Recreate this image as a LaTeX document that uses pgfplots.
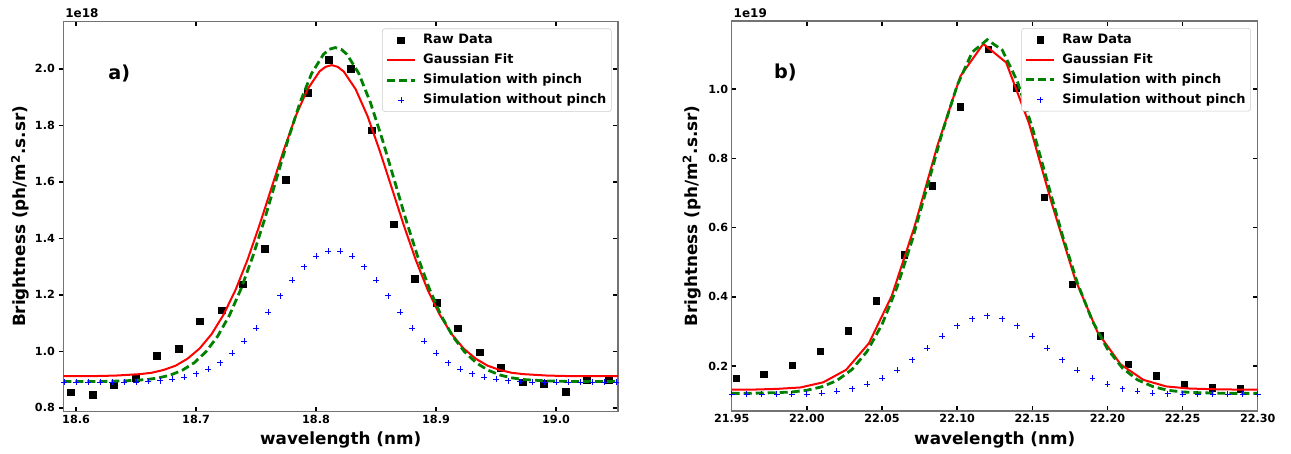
\documentclass[border=0pt]{standalone}
\usepackage{pgfplots}
\pgfplotsset{compat=1.18}
\usepackage{fontspec}
\setmainfont{DejaVu Sans}
\definecolor{mgreen}{rgb}{0,0.5,0}

\pgfplotsset{
  common/.style={
    scale only axis,
    anchor=south west,
    clip mode=individual,
    scaled ticks=false,
    /pgf/number format/assume math mode=true,
    tick label style={font=\bfseries\fontsize{8.4}{10}\selectfont, inner sep=0pt},
    label style={font=\bfseries\fontsize{12.6}{15}\selectfont},
    axis line style={black!55, line width=0.8pt},
    tick style={black, line width=1.1pt},
    major tick length=3.5pt,
    tick align=inside,
    xtick pos=both,
    xticklabel pos=bottom,
    xticklabel shift=2.5pt,
    legend cell align=left,
    legend image code/.code={\draw[mark repeat=2,mark phase=2,##1] plot coordinates {(0pt,0pt) (10.4pt,0pt) (20.8pt,0pt)};},
    legend style={anchor=north east, draw=black!20, rounded corners=2pt, fill=white,
      font=\bfseries\fontsize{9.7}{11}\selectfont, inner sep=2.6pt, row sep=3.1pt,
      nodes={inner sep=1.2pt, text height=7.5pt, text depth=2pt},
      /tikz/every odd column/.append style={column sep=4pt}},
    xlabel style={anchor=center},
    ylabel style={anchor=center},
  },
  raw/.style={only marks, mark=square*, mark size=2.5pt, black},
  fit/.style={red, line width=1.5pt, no marks},
  pinch/.style={mgreen, line width=2.1pt, dash pattern=on 6pt off 3pt, no marks},
  nopinch/.style={only marks, mark=+, mark size=2.2pt, blue, mark options={line width=0.7pt}},
}

\begin{document}
\begin{tikzpicture}
\useasboundingbox (0pt,0pt) rectangle (968.25pt,-339.75pt);

% ---------------- panel a ----------------
\begin{axis}[common,
  at={(47.5pt,-308.8pt)}, width=416pt, height=293pt,
  xmin=18.5894, xmax=19.0517, ymin=0.786, ymax=2.169,
  xtick={18.6,18.7,18.8,18.9,19.0},
  ytick={0.8,1.0,1.2,1.4,1.6,1.8,2.0},
  ytick pos=right, yticklabel pos=left,
  extra y ticks={0.8,1.0,1.2,1.4,1.6,1.8,2.0},
  extra y tick labels={},
  extra y tick style={ytick pos=left, tick align=outside},
  yticklabel shift=6.2pt,
  xticklabel style={/pgf/number format/fixed, /pgf/number format/fixed zerofill, /pgf/number format/precision=1},
  yticklabel style={/pgf/number format/fixed, /pgf/number format/fixed zerofill, /pgf/number format/precision=1},
  xlabel={wavelength (nm)},
  ylabel={Brightness (ph/m\textsuperscript{2}.s.sr)},
  xlabel style={at={(axis description cs:0.5,-0.072)}},
  ylabel style={at={(axis description cs:-0.0775,0.5)}},
  legend style={at={(axis description cs:0.9886,0.981)}},
]
\addplot[raw] coordinates {
(18.5958,0.855) (18.6137,0.847) (18.6316,0.880) (18.6496,0.906) (18.6675,0.983)
(18.6854,1.009) (18.7033,1.106) (18.7212,1.145) (18.7392,1.237) (18.7571,1.362)
(18.7750,1.608) (18.7929,1.915) (18.8108,2.031) (18.8288,2.001) (18.8467,1.783)
(18.8646,1.450) (18.8825,1.256) (18.9004,1.171) (18.9184,1.082) (18.9363,0.996)
(18.9542,0.941) (18.9721,0.890) (18.9900,0.886) (19.0080,0.857) (19.0259,0.898)
(19.0438,0.900)};
\addlegendentry{Raw Data}
\addplot[fit] coordinates {
(18.5894,0.912) (18.613,0.912) (18.633,0.914) (18.653,0.919) (18.663,0.924)
(18.673,0.934) (18.683,0.949) (18.693,0.974) (18.703,1.010) (18.713,1.061)
(18.723,1.130) (18.733,1.218) (18.743,1.325) (18.753,1.448) (18.763,1.580)
(18.773,1.711) (18.783,1.832) (18.793,1.928) (18.803,1.991) (18.808,2.007) (18.813,2.013)
(18.818,2.007) (18.823,1.991) (18.833,1.928) (18.843,1.832) (18.853,1.711) (18.863,1.580)
(18.873,1.448) (18.883,1.325) (18.893,1.218) (18.903,1.130) (18.913,1.061)
(18.923,1.010) (18.933,0.974) (18.943,0.949) (18.953,0.934) (18.963,0.924)
(18.973,0.919) (18.993,0.914) (19.013,0.912) (19.0517,0.912)};
\addlegendentry{Gaussian Fit}
\addplot[pinch] coordinates {
(18.5894,0.893) (18.620,0.893) (18.6396,0.895) (18.6592,0.900) (18.669,0.906)
(18.6788,0.916) (18.6886,0.933) (18.6984,0.959) (18.7082,0.998) (18.718,1.053)
(18.7278,1.127) (18.7376,1.222) (18.7474,1.337) (18.7572,1.468) (18.767,1.610)
(18.7768,1.751) (18.7866,1.880) (18.7964,1.984) (18.8062,2.051) (18.811,2.069) (18.816,2.075)
(18.821,2.069) (18.8258,2.051) (18.8356,1.984) (18.8454,1.880) (18.8552,1.751) (18.865,1.610)
(18.8748,1.468) (18.8846,1.337) (18.8944,1.222) (18.9042,1.127) (18.914,1.053)
(18.9238,0.998) (18.9336,0.959) (18.9434,0.933) (18.9532,0.916) (18.963,0.906)
(18.9728,0.900) (18.9924,0.895) (19.012,0.893) (19.0517,0.893)};
\addlegendentry{Simulation with pinch}
\addplot[nopinch] coordinates {
(18.59,0.890) (18.60,0.890) (18.61,0.890) (18.62,0.890) (18.63,0.890)
(18.64,0.890) (18.65,0.891) (18.66,0.893) (18.67,0.896) (18.68,0.901)
(18.69,0.909) (18.70,0.920) (18.71,0.937) (18.72,0.959) (18.73,0.993)
(18.74,1.035) (18.75,1.082) (18.76,1.138) (18.77,1.196) (18.78,1.252)
(18.79,1.299) (18.80,1.337) (18.81,1.355) (18.82,1.355) (18.83,1.337)
(18.84,1.299) (18.85,1.252) (18.86,1.196) (18.87,1.138) (18.88,1.082)
(18.89,1.035) (18.90,0.993) (18.91,0.959) (18.92,0.937) (18.93,0.920)
(18.94,0.909) (18.95,0.901) (18.96,0.896) (18.97,0.893) (18.98,0.891)
(18.99,0.890) (19.00,0.890) (19.01,0.890) (19.02,0.890) (19.03,0.890)
(19.04,0.890) (19.05,0.890)};
\addlegendentry{Simulation without pinch}
\node[font=\bfseries\fontsize{14.4}{17}\selectfont] at (axis cs:18.636,1.985) {a)};
\node[anchor=south west, inner sep=0pt, xshift=1.3pt, yshift=2pt, font=\bfseries\fontsize{9}{10}\selectfont] at (rel axis cs:0,1) {1e18};
\end{axis}

% ---------------- panel b ----------------
\begin{axis}[common,
  at={(548.8pt,-308.25pt)}, width=394.5pt, height=292.5pt,
  xmin=21.95, xmax=22.30, ymin=0.070, ymax=1.197,
  xtick={21.95,22.00,22.05,22.10,22.15,22.20,22.25,22.30},
  ytick={0.2,0.4,0.6,0.8,1.0},
  ytick pos=both, yticklabel pos=left,
  yticklabel shift=2.5pt,
  xticklabel style={/pgf/number format/fixed, /pgf/number format/fixed zerofill, /pgf/number format/precision=2},
  yticklabel style={/pgf/number format/fixed, /pgf/number format/fixed zerofill, /pgf/number format/precision=1},
  xlabel={wavelength (nm)},
  ylabel={Brightness (ph/m\textsuperscript{2}.s.sr)},
  xlabel style={at={(axis description cs:0.5,-0.074)}},
  ylabel style={at={(axis description cs:-0.076,0.5)}},
  legend style={at={(axis description cs:0.987,0.982)}},
]
\addplot[raw] coordinates {
(21.9529,0.165) (21.9715,0.176) (21.9902,0.202) (22.0088,0.243) (22.0275,0.302)
(22.0461,0.388) (22.0647,0.521) (22.0834,0.721) (22.1020,0.949) (22.1207,1.115)
(22.1393,1.005) (22.1579,0.688) (22.1766,0.436) (22.1952,0.288) (22.2139,0.205)
(22.2325,0.171) (22.2511,0.146) (22.2698,0.138) (22.2884,0.134)};
\addlegendentry{Raw Data}
\addplot[fit] coordinates {
(21.9500,0.132) (21.9652,0.132) (21.9804,0.134) (21.9957,0.138) (22.0109,0.153)
(22.0261,0.189) (22.0413,0.266) (22.0565,0.403) (22.0717,0.604) (22.0870,0.839)
(22.1022,1.038) (22.1174,1.131) (22.1326,1.077) (22.1478,0.901) (22.1630,0.669)
(22.1783,0.453) (22.1935,0.297) (22.2087,0.205) (22.2239,0.160) (22.2391,0.141)
(22.2543,0.135) (22.2696,0.133) (22.2848,0.132) (22.3000,0.132)};
\addlegendentry{Gaussian Fit}
\addplot[pinch] coordinates {
(21.95,0.121) (21.96,0.121) (21.97,0.122) (21.98,0.123) (21.99,0.125)
(22.00,0.130) (22.01,0.140) (22.02,0.158) (22.03,0.190) (22.04,0.242)
(22.05,0.320) (22.06,0.428) (22.07,0.563) (22.08,0.717) (22.09,0.874)
(22.10,1.011) (22.11,1.107) (22.12,1.143) (22.13,1.113) (22.14,1.023)
(22.15,0.889) (22.16,0.733) (22.17,0.578) (22.18,0.440) (22.19,0.330)
(22.20,0.249) (22.21,0.194) (22.22,0.160) (22.23,0.141) (22.24,0.130)
(22.25,0.125) (22.26,0.123) (22.27,0.122) (22.28,0.121) (22.29,0.121)
(22.30,0.121)};
\addlegendentry{Simulation with pinch}
\addplot[nopinch] coordinates {
(21.95,0.119) (21.96,0.119) (21.97,0.119) (21.98,0.119) (21.99,0.119)
(22.00,0.119) (22.01,0.122) (22.02,0.127) (22.03,0.134) (22.04,0.147)
(22.05,0.165) (22.06,0.188) (22.07,0.218) (22.08,0.251) (22.09,0.286)
(22.10,0.316) (22.11,0.337) (22.12,0.345) (22.13,0.337) (22.14,0.316)
(22.15,0.286) (22.16,0.251) (22.17,0.218) (22.18,0.188) (22.19,0.165)
(22.20,0.147) (22.21,0.134) (22.22,0.127) (22.23,0.122) (22.24,0.120)
(22.25,0.119) (22.26,0.119) (22.27,0.119) (22.28,0.119) (22.29,0.119)
(22.30,0.119)};
\addlegendentry{Simulation without pinch}
\node[font=\bfseries\fontsize{14.4}{17}\selectfont] at (axis cs:21.9857,1.047) {b)};
\node[anchor=south west, inner sep=0pt, xshift=1.3pt, yshift=2pt, font=\bfseries\fontsize{9}{10}\selectfont] at (rel axis cs:0,1) {1e19};
\end{axis}
\end{tikzpicture}
\end{document}
